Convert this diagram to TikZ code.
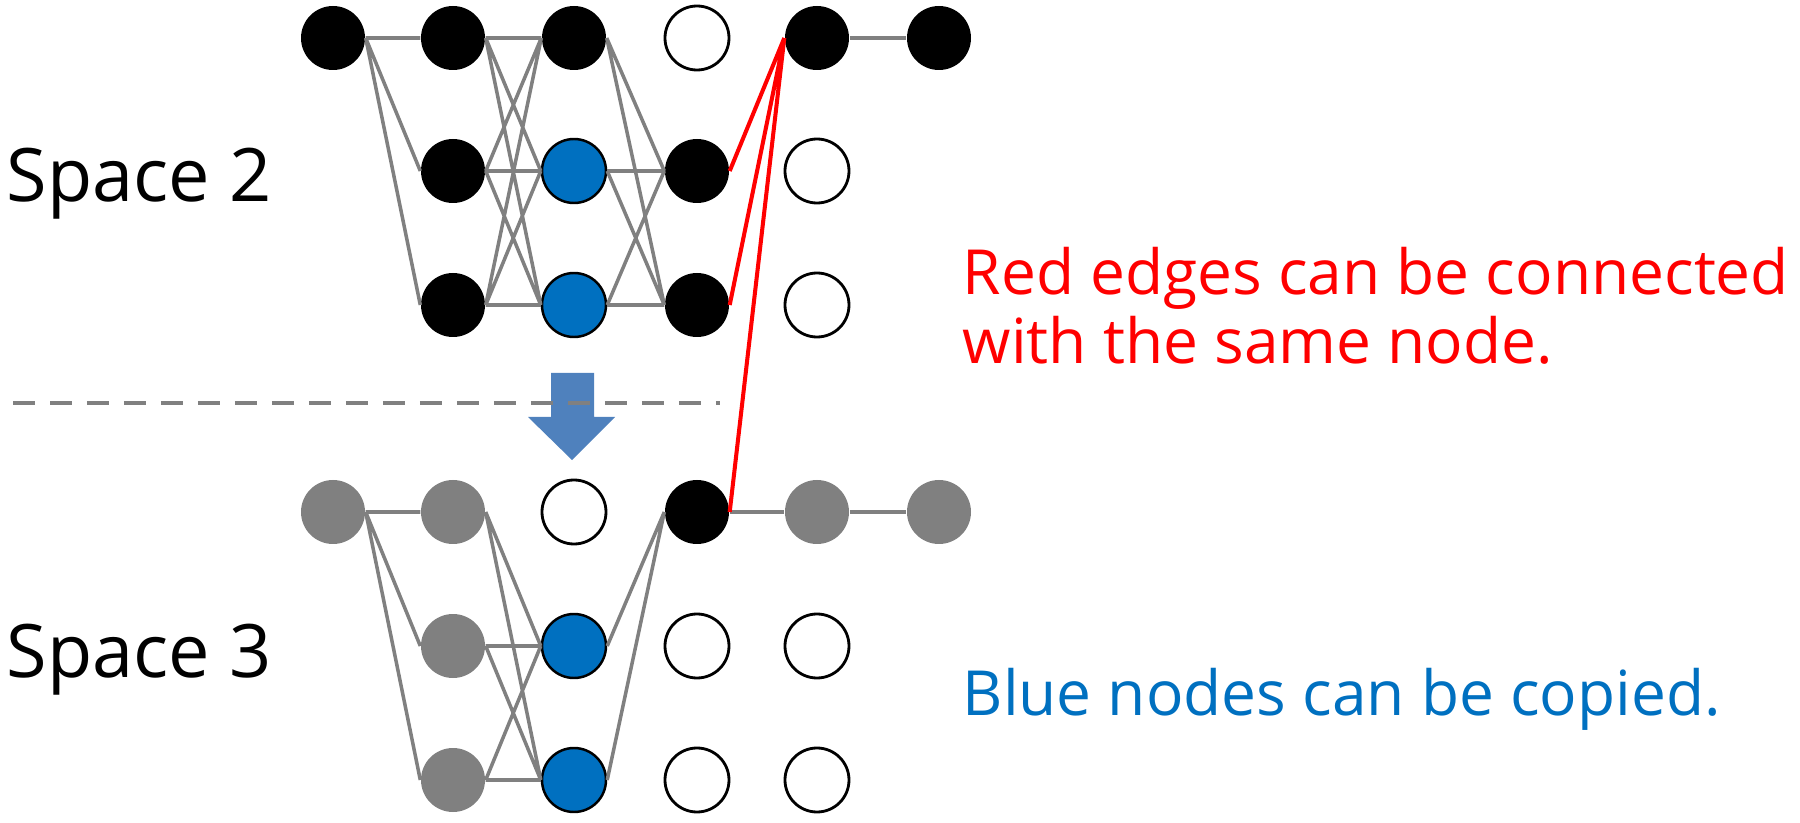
\documentclass[tikz,border=0pt]{standalone}
\usepackage{fontspec}
\setmainfont{Open Sans}
\usetikzlibrary{positioning}

\definecolor{nodeblue}{RGB}{0,112,192}
\definecolor{edgegrey}{RGB}{128,128,128}
\definecolor{arrowblue}{RGB}{79,129,189}

\tikzset{
  dot/.style={circle,minimum size=0.64cm,inner sep=0pt},
  blk/.style={dot,fill=black},
  wht/.style={dot,draw=black,line width=0.8pt,fill=white},
  blu/.style={dot,draw=black,line width=0.7pt,fill=nodeblue},
  gry/.style={dot,fill=edgegrey},
  edge/.style={draw=edgegrey,line width=1pt},
  rededge/.style={draw=red,line width=1.15pt},
  label/.style={anchor=base west,inner sep=0pt,font=\fontsize{21}{25}\selectfont}
}

\begin{document}
\begin{tikzpicture}
  \useasboundingbox (0,0) rectangle (18,8.22);
  % space 2
  \node[blk] (a11) at (3.33,7.84) {};
  \node[blk] (a12) at (4.53,7.84) {};
  \node[blk] (a13) at (5.74,7.84) {};
  \node[wht] (a14) at (6.97,7.84) {};
  \node[blk] (a15) at (8.17,7.84) {};
  \node[blk] (a16) at (9.39,7.84) {};
  \node[blk] (a22) at (4.53,6.51) {};
  \node[blu] (a23) at (5.74,6.51) {};
  \node[blk] (a24) at (6.97,6.51) {};
  \node[wht] (a25) at (8.17,6.51) {};
  \node[blk] (a32) at (4.53,5.17) {};
  \node[blu] (a33) at (5.74,5.17) {};
  \node[blk] (a34) at (6.97,5.17) {};
  \node[wht] (a35) at (8.17,5.17) {};
  % space 3
  \node[gry] (b11) at (3.33,3.10) {};
  \node[gry] (b12) at (4.53,3.10) {};
  \node[wht] (b13) at (5.74,3.10) {};
  \node[blk] (b14) at (6.97,3.10) {};
  \node[gry] (b15) at (8.17,3.10) {};
  \node[gry] (b16) at (9.39,3.10) {};
  \node[gry] (b22) at (4.53,1.76) {};
  \node[blu] (b23) at (5.74,1.76) {};
  \node[wht] (b24) at (6.97,1.76) {};
  \node[wht] (b25) at (8.17,1.76) {};
  \node[gry] (b32) at (4.53,0.42) {};
  \node[blu] (b33) at (5.74,0.42) {};
  \node[wht] (b34) at (6.97,0.42) {};
  \node[wht] (b35) at (8.17,0.42) {};

  % grey edges, space 2
  \draw[edge] (a11.east) -- (a12.west) (a11.east) -- (a22.west) (a11.east) -- (a32.west);
  \draw[edge] (a12.east) -- (a13.west) (a12.east) -- (a23.west) (a12.east) -- (a33.west)
              (a22.east) -- (a13.west) (a22.east) -- (a23.west) (a22.east) -- (a33.west)
              (a32.east) -- (a13.west) (a32.east) -- (a23.west) (a32.east) -- (a33.west);
  \draw[edge] (a13.east) -- (a24.west) (a13.east) -- (a34.west)
              (a23.east) -- (a24.west) (a23.east) -- (a34.west)
              (a33.east) -- (a24.west) (a33.east) -- (a34.west);
  \draw[edge] (a15.east) -- (a16.west);
  % grey edges, space 3
  \draw[edge] (b11.east) -- (b12.west) (b11.east) -- (b22.west) (b11.east) -- (b32.west);
  \draw[edge] (b12.east) -- (b23.west) (b12.east) -- (b33.west)
              (b22.east) -- (b23.west) (b22.east) -- (b33.west)
              (b32.east) -- (b23.west) (b32.east) -- (b33.west);
  \draw[edge] (b23.east) -- (b14.west) (b33.east) -- (b14.west);
  \draw[edge] (b14.east) -- (b15.west) (b15.east) -- (b16.west);
  % red edges
  \draw[rededge] (a15.west) -- (a24.east) (a15.west) -- (a34.east) (a15.west) -- (b14.east);

  % separator and arrow
  \fill[arrowblue] (5.51,4.49) -- (5.94,4.49) -- (5.94,4.05) -- (6.15,4.05) -- (5.72,3.62)
                   -- (5.28,4.05) -- (5.51,4.05) -- cycle;
  \draw[edgegrey,line width=0.95pt,dash pattern=on 0.22cm off 0.15cm] (0.13,4.19) -- (7.2,4.19);

  % texts
  \node[label] (lab2) at (0.06,6.2) {Space 2};
  \node[label] (lab3) at (0.06,1.45) {Space 3};
  \node[anchor=west,align=left,inner sep=0pt,text=red,font=\fontsize{17.7}{19.6}\selectfont]
    (redtxt) at (9.62,5.16) {Red edges can be connected\\with the same node.};
  \node[anchor=base west,inner sep=0pt,text=nodeblue,font=\fontsize{17.7}{19.6}\selectfont]
    (bluetxt) at (9.62,1.06) {Blue nodes can be copied.};
\end{tikzpicture}
\end{document}
